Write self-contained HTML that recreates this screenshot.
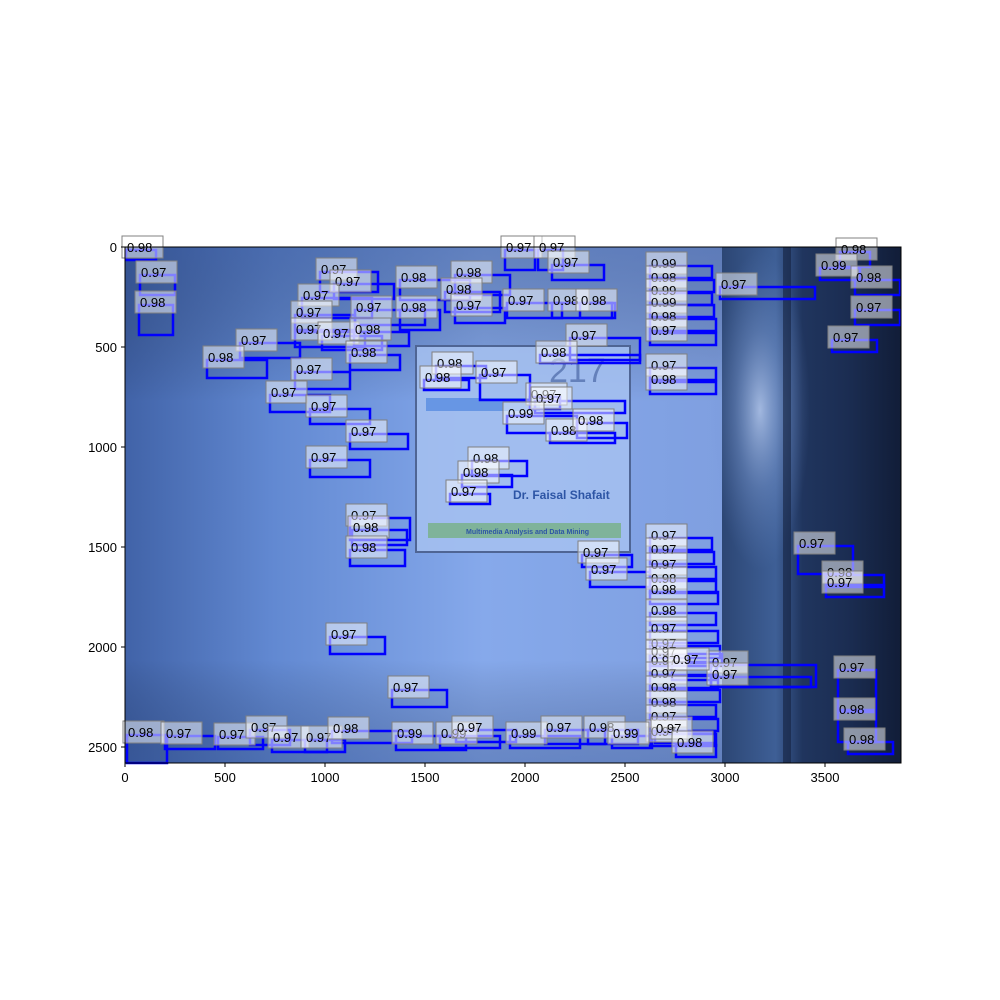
<!DOCTYPE html>
<html><head><meta charset="utf-8"><style>
html,body{margin:0;padding:0;background:#fff;}
svg{display:block;font-family:"Liberation Sans","DejaVu Sans",sans-serif;}
</style></head><body>
<svg id="chart" width="1000" height="1000" viewBox="0 0 1000 1000" xmlns="http://www.w3.org/2000/svg">
<defs>
<linearGradient id="bgL" x1="0" y1="0" x2="1" y2="0">
<stop offset="0" stop-color="#4163a8"/><stop offset="0.25" stop-color="#6289d2"/><stop offset="0.6" stop-color="#86a9eb"/><stop offset="1" stop-color="#7f9fe0"/>
</linearGradient>
<linearGradient id="bgV" x1="0" y1="0" x2="0" y2="1">
<stop offset="0" stop-color="#1f3870" stop-opacity="0.35"/><stop offset="0.3" stop-color="#000" stop-opacity="0"/><stop offset="0.8" stop-color="#000" stop-opacity="0"/><stop offset="1" stop-color="#1f3870" stop-opacity="0.3"/>
</linearGradient>
<linearGradient id="bgR" x1="0" y1="0" x2="1" y2="0">
<stop offset="0" stop-color="#2c4674"/><stop offset="0.3" stop-color="#3e5f96"/><stop offset="0.45" stop-color="#20355e"/><stop offset="0.7" stop-color="#1b2d52"/><stop offset="1" stop-color="#111d38"/>
</linearGradient>
<radialGradient id="glow" cx="0.5" cy="0.5" r="0.5">
<stop offset="0" stop-color="#c5d8fb" stop-opacity="0.75"/><stop offset="0.5" stop-color="#8aa8e0" stop-opacity="0.35"/><stop offset="1" stop-color="#6f90d0" stop-opacity="0"/>
</radialGradient>
</defs>
<g id="image">
<rect x="125" y="247" width="598" height="516" fill="url(#bgL)"/>
<rect x="125" y="247" width="598" height="516" fill="url(#bgV)"/>
<rect x="722" y="247" width="179" height="516" fill="url(#bgR)"/>
<ellipse cx="760" cy="410" rx="50" ry="160" fill="url(#glow)"/>
<rect x="783" y="247" width="8" height="516" fill="#14223f" opacity="0.6"/>
<g>
<rect x="416" y="346" width="214" height="206" fill="#a6c1f0" fill-opacity="0.85" stroke="#4f6594" stroke-width="2"/>
<rect x="426" y="398" width="114" height="13" fill="#4f86e0" opacity="0.7"/>
<text x="549" y="382" font-size="34" fill="#3d5a9a" opacity="0.6">217</text>
<text x="513" y="499" font-size="12" font-weight="bold" fill="#2d55a5">Dr. Faisal Shafait</text>
<rect x="428" y="523" width="193" height="15" fill="#7fb39a"/>
<text x="466" y="534" font-size="7" font-weight="bold" fill="#2d55a5">Multimedia Analysis and Data Mining</text>
</g>
</g>
<g id="boxes"></g>
<g id="labels"></g>
<g id="axes"></g>
</svg>
<script>
const bx=[5,75,70,975,1045,885,1150,1375,1650,1600,1375,1650,850,850,985,1145,1125,575,410,850,725,925,1125,925,1900,2065,2135,1910,2135,2275,2225,2075,1555,1495,1775,2025,2050,1910,2125,2260,1735,1685,1625,1125,1135,1125,1025,1335,2285,2325,2975,
2625,2625,2625,2625,2625,2625,2625,2625,2625,2625,2625,2625,2625,2625,2625,2625,2625,2625,2625,2625,2625,2625,2625,
3575,3475,3650,3650,3535,3365,3505,3505,2930,2930,2735,3565,3565,3615,
10,200,465,625,735,900,1035,1355,1575,1655,1925,2100,2315,2435,2650,2755];
const by=[15,140,290,125,185,255,315,165,140,225,315,305,340,425,445,425,540,480,565,625,740,810,935,1065,15,15,90,280,280,280,455,540,595,665,640,750,770,845,930,880,1070,1140,1235,1355,1415,1515,1950,2215,1540,1625,200,
95,165,230,290,360,430,605,675,1455,1525,1600,1670,1725,1830,1920,1995,2035,2080,2145,2215,2290,2360,2435,
25,105,165,315,465,1495,1640,1690,2090,2150,2075,2115,2325,2475,
2440,2445,2450,2415,2465,2465,2420,2445,2445,2415,2445,2415,2415,2445,2420,2490];
const bw=[150,175,170,290,300,350,350,350,275,275,200,250,300,350,300,275,250,300,300,275,300,300,290,300,150,125,260,275,300,175,350,500,250,225,250,150,450,350,325,250,275,250,200,300,275,275,275,275,250,300,475,
310,320,310,320,330,330,330,330,310,320,330,330,340,330,340,350,360,330,340,350,330,340,330,
150,200,225,225,225,275,290,290,525,500,225,190,190,225,
200,250,225,200,275,200,400,350,300,300,350,300,250,200,300,200];
const bh=[50,100,150,100,75,100,75,100,100,100,100,75,75,75,70,70,75,75,90,85,85,75,75,85,100,100,75,75,75,75,110,40,60,50,125,60,60,85,50,75,75,60,50,110,75,80,85,85,60,75,60,
60,60,60,60,60,60,60,60,60,60,60,60,60,60,60,60,60,60,60,60,60,60,60,
75,60,75,75,60,140,60,60,110,50,90,200,150,60,
140,65,60,75,60,60,60,70,60,60,60,70,70,60,60,60];
const scores=["0.98","0.97","0.98","0.97","0.97","0.97","0.97","0.98","0.98","0.98","0.98","0.97","0.97","0.97","0.97","0.98","0.98","0.97","0.98","0.97","0.97","0.97","0.97","0.97","0.97","0.97","0.97","0.97","0.98","0.98","0.97","0.98","0.98","0.98","0.97","0.97","0.97","0.99","0.98","0.98","0.98","0.98","0.97","0.97","0.98","0.98","0.97","0.97","0.97","0.97","0.97",
"0.99","0.98","0.99","0.99","0.98","0.97","0.97","0.98","0.97","0.97","0.97","0.98","0.98","0.98","0.97","0.97","0.97","0.97","0.97","0.98","0.98","0.97","0.97",
"0.98","0.99","0.98","0.97","0.97","0.97","0.98","0.97","0.97","0.97","0.97","0.97","0.98","0.98",
"0.98","0.97","0.97","0.97","0.97","0.97","0.98","0.99","0.99","0.97","0.99","0.97","0.98","0.99","0.97","0.98"];
const xTicks=[0,500,1000,1500,2000,2500,3000,3500];
const yTicks=[0,500,1000,1500,2000,2500];
const imgW=3880, imgH=2580;

const NS="http://www.w3.org/2000/svg";
const X0=125,Y0=247,S=0.2;
const sx=d=>X0+d*S, sy=d=>Y0+d*S;
function mk(tag,attrs,parent){const e=document.createElementNS(NS,tag);for(const k in attrs)e.setAttribute(k,attrs[k]);parent.appendChild(e);return e;}
const gB=document.getElementById('boxes'), gL=document.getElementById('labels'), gA=document.getElementById('axes');
for(let i=0;i<bx.length;i++){
  const r=mk('rect',{x:sx(bx[i]),y:sy(by[i]),width:bw[i]*S,height:bh[i]*S,fill:'none',stroke:'#0000ff','stroke-width':2.5},gB);
  
  
}
for(let i=0;i<bx.length;i++){
  const lx=sx(bx[i])-4, ly=sy(by[i])-14;
  const g=mk('g',{},gL);
  
  
  mk('rect',{x:lx,y:ly,width:41,height:22,fill:'#ffffff','fill-opacity':0.5,stroke:'#808080','stroke-width':1},g);
  const t=mk('text',{x:lx+5,y:ly+16,'font-size':13,fill:'#000'},g);
  t.textContent=scores[i];
}
const fr=mk('rect',{x:X0,y:Y0,width:imgW*S,height:imgH*S,fill:'none',stroke:'#000','stroke-width':1},gA);


xTicks.forEach(v=>{
  const g=mk('g',{},gA);
  
  
  mk('line',{x1:sx(v),x2:sx(v),y1:sy(imgH),y2:sy(imgH)+4,stroke:'#000'},g);
  const t=mk('text',{x:sx(v),y:sy(imgH)+19,'font-size':13,'text-anchor':'middle'},g);t.textContent=v;
});
yTicks.forEach(v=>{
  const g=mk('g',{},gA);
  
  
  mk('line',{x1:X0-4,x2:X0,y1:sy(v),y2:sy(v),stroke:'#000'},g);
  const t=mk('text',{x:X0-8,y:sy(v)+5,'font-size':13,'text-anchor':'end'},g);t.textContent=v;
});
</script>
</body></html>
